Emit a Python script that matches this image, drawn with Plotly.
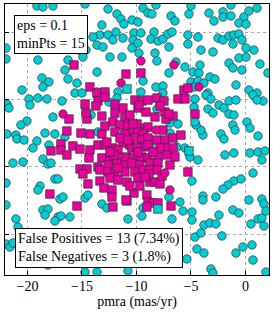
import plotly.graph_objects as go

# ---- data (pmra, pmdec) ----
noise_x = [
 -19.13,-18.58,-17.66,-14.72,-12.61,-11.79,-11.42,-11.15,-10.41,-13.17,-11.88,-10.23,-13.35,-12.61,-13.99,-11.24,-12.16,-10.32,
 -13.62,-13.07,-10.41,-14.63,-15.28,-12.43,-11.33,-14.91,-21.97,-21.97,-19.04,-16.28,-13.62,-16.56,-18.67,-18.03,-16.28,-15.46,
 -18.58,-20.5,-15.64,-15.0,-13.62,-11.7,
 -9.4,-8.94,-8.58,-8.21,-6.83,-6.47,-5.18,-5.0,-3.35,-2.89,-2.06,-2.06,-1.33,-1.33,-0.14,0.32,1.06,-0.6,0.05,-9.86,-9.59,-8.39,
 -8.67,-8.03,-7.57,-7.11,-6.74,-7.02,-9.86,-5.28,-4.36,-5.28,-2.52,-2.06,-1.51,-1.06,-0.6,-1.15,-0.32,0.05,0.78,-4.08,-2.98,-9.77,
 -8.3,-8.12,-6.38,-5.55,-7.02,-4.82,-4.27,-4.17,-1.51,-1.15,-0.6,0.05,1.33,-0.32,2.06,-9.4,-5.0,-4.36,-3.26,-2.8,-4.72,-3.81,
 -8.21,-7.57,-9.59,-3.44,-0.87,0.32,1.06,-7.57,
 -19.86,-19.04,-18.21,-19.77,-21.88,-21.7,-16.83,-17.66,-20.05,-20.6,-21.88,-21.06,-20.96,-20.32,-18.39,-17.48,-16.56,-19.13,
 -19.5,-18.03,-18.58,-18.12,-17.84,-21.33,-20.41,-17.48,-17.2,-21.97,-18.85,-14.17,
 -3.62,-3.17,-3.44,-2.98,-2.43,-1.97,-1.51,-0.87,-1.51,-1.06,-1.15,-0.96,-2.25,-1.97,0.14,0.41,0.69,1.61,1.06,-3.9,-4.08,-4.54,
 -1.88,-1.06,0.41,1.15,1.79,1.51,-4.36,-5.09,0.69,-1.06,-0.41,-1.61,-2.06,-4.91,1.15,
 -12.52,-11.79,-4.63,-4.72,-8.12,-4.63,-6.93,-6.19,-13.53,-6.93,-8.76,-6.28,-5.55,-13.17,-12.71,-6.01,-5.73,-4.91,-9.4,
 -19.04,-14.72,-14.45,-17.02,-16.74,-18.58,-18.12,-18.39,-17.2,-16.93,-17.48,-16.1,-21.97,-21.06,-20.87,-10.78,-21.97,-21.6,
 -21.33,-14.72,-13.62,-10.78,-18.12,
 -3.9,-3.9,-2.71,0.32,1.51,1.7,-7.02,-4.91,-6.74,-9.5,-3.81,-3.26,-2.71,-2.43,-1.15,-0.6,0.5,1.15,1.51,1.7,1.88,-4.63,-4.08,
 -2.16,-4.45,-3.81,-0.87,-0.23,0.6,0.69,-3.17,-2.98,-6.19,-5.37,1.88,
]
noise_y = [
 1.93,1.86,1.93,2.08,1.71,1.34,0.97,0.59,0.89,0.52,0.0,-0.07,-0.22,-0.22,-0.37,-0.45,-0.59,-0.59,
 -0.97,-1.11,-1.19,-1.34,-1.34,-1.86,-1.86,-1.86,-1.19,-2.0,-2.08,-2.08,-2.97,-2.82,-3.41,-3.71,-3.49,-3.79,
 -4.08,-4.31,-4.53,-4.53,-4.45,-4.45,
 1.78,1.41,1.34,2.0,1.19,0.82,1.34,1.93,1.41,0.82,1.5,1.11,1.19,2.0,1.11,1.56,1.78,0.67,0.59,0.74,-0.07,0.0,
 -0.52,-0.67,-0.52,-0.15,0.0,-1.11,-0.82,-0.22,-0.37,-0.89,-0.45,-0.59,-0.3,-0.22,-0.15,-0.89,-0.59,-1.19,-1.34,-1.34,-1.48,-1.56,
 -1.56,-2.15,-2.23,-2.6,-3.04,-2.97,-3.04,-2.45,-2.3,-2.67,-1.93,-1.86,-2.38,-2.82,-3.04,-3.64,-3.71,-3.64,-3.34,-3.49,-4.08,-3.79,
 -4.08,-4.01,-4.45,-4.53,-3.93,-4.31,-4.53,-4.53,
 -4.97,-4.9,-4.97,-5.42,-5.35,-5.64,-5.12,-6.31,-6.61,-6.9,-7.57,-7.65,-7.94,-8.02,-7.5,-7.57,-7.8,-8.09,
 -8.61,-8.39,-9.43,-9.8,-9.73,-9.73,-9.65,-10.91,-10.91,-11.21,-11.43,-6.16,
 -4.68,-4.97,-5.72,-6.01,-5.42,-5.64,-5.12,-5.05,-6.09,-6.16,-6.9,-7.28,-7.57,-7.94,-6.68,-7.13,-4.68,-5.12,-5.05,-7.65,-7.28,-6.9,
 -9.13,-8.98,-8.98,-8.91,-8.83,-9.5,-9.5,-9.28,-10.47,-11.06,-10.91,-11.36,-11.66,-11.06,-7.72,
 -5.2,-4.9,-4.97,-5.57,-5.72,-6.68,-6.76,-6.83,-7.42,-7.5,-8.54,-8.54,-8.61,-12.77,-13.07,-12.62,-13.29,-13.36,-13.07,
 -11.73,-12.32,-12.1,-12.4,-12.25,-13.21,-13.14,-13.59,-13.73,-13.66,-14.03,-13.73,-12.84,-13.88,-14.48,-13.88,-15.74,-15.96,
 -15.66,-17.82,-17.82,-17.74,-17.3,
 -12.18,-12.47,-12.25,-12.47,-12.4,-12.77,-12.25,-13.96,-13.88,-13.66,-14.33,-14.18,-14.25,-13.59,-13.21,-13.44,-14.25,-13.88,-13.81,-14.4,-13.29,-15.22,-14.92,
 -15.14,-16.11,-16.41,-16.41,-15.96,-15.81,-16.93,-17.59,-17.89,-16.93,-16.85,-17.82,
]

cluster_x = [
 -15.73,-10.96,-14.27,-13.62,-12.89,-9.59,-5.64,-5.28,
 -14.72,-16.19,-14.54,-14.63,-16.38,-15.09,-14.27,-16.93,-15.83,-15.18,-17.84,-16.93,-16.38,-14.27,-14.36,-15.18,-14.54,-14.91,-14.45,
 -13.53,-12.89,-10.14,-9.5,-8.94,-8.12,-7.48,-6.19,-5.55,
 -11.24,-13.17,-11.06,-9.86,-9.13,-7.39,-7.29,-6.65,
 -12.16,-11.51,-10.78,-9.95,-9.22,-8.94,-7.57,-10.41,-9.86,-9.4,-11.06,-13.17,-11.97,
 -13.53,-12.89,-12.16,-11.24,-10.6,-10.14,-9.5,-8.94,-8.12,-7.39,-6.65,-5.92,-9.4,-10.41,-11.7,-9.95,-6.65,-7.39,-7.84,
 -13.17,-12.43,-11.7,-10.87,-10.32,-9.5,-8.94,-8.03,-7.2,-6.47,-13.53,-12.61,-11.79,-11.06,-10.41,-9.68,-8.76,-8.03,
 -13.35,-12.61,-11.97,-11.06,-10.14,-9.4,-8.76,-8.12,-5.28,-13.35,-12.43,-11.7,-10.87,-9.86,-8.76,-8.3,-7.84,
 -12.25,-10.23,-12.25,-9.04,-8.94,-10.87,-8.49,-8.03,-12.16,-9.04,-6.83,
 -4.63,-17.94,-15.46,-10.96,
 -13.72,-11.97,-10.32,-12.71,-12.06,
 -9.77,-7.02,-8.94,-9.86,-8.85,
 -11.51,-10.78,-12.43,-8.49,-11.7,-9.22,-10.6,-12.98,-9.68,-7.66,-6.93,-8.3,-10.6,-11.97,-7.84,-12.89,
]
cluster_y = [
 -2.45,-3.12,-4.08,-4.53,-4.45,-3.04,-4.31,-4.16,
 -5.35,-6.46,-6.46,-6.01,-7.35,-7.5,-7.57,-8.31,-8.46,-8.69,-8.83,-8.76,-9.13,-8.76,-9.35,-10.17,-10.17,-10.54,-11.28,
 -5.12,-4.83,-5.05,-5.12,-5.05,-4.9,-5.12,-4.97,-4.97,
 -5.64,-6.24,-6.31,-5.64,-5.94,-5.94,-6.46,-6.24,
 -6.68,-6.9,-6.98,-6.83,-7.13,-7.05,-7.28,-7.42,-7.42,-7.57,-7.57,-7.57,-7.42,
 -8.39,-8.39,-8.61,-8.24,-8.39,-7.87,-8.02,-7.87,-8.02,-8.02,-7.87,-7.65,-8.54,-8.61,-8.76,-8.61,-8.61,-8.61,-8.61,
 -9.35,-9.5,-9.28,-9.28,-9.35,-9.28,-9.35,-9.28,-9.13,-9.28,-10.02,-9.87,-9.73,-9.87,-9.73,-9.87,-9.73,-9.73,
 -10.24,-10.39,-10.47,-10.39,-10.39,-10.24,-10.24,-10.24,-10.39,-11.06,-10.84,-10.99,-11.14,-10.84,-11.14,-11.14,-11.28,
 -11.73,-11.95,-12.25,-12.1,-12.62,-12.55,-12.69,-12.69,-12.99,-12.99,-12.92,
 -6.09,-12.03,-12.92,-12.47,
 -5.49,-6.01,-6.83,-8.17,-9.13,
 -5.42,-6.09,-8.39,-8.91,-10.54,
 -7.87,-8.02,-8.91,-8.91,-10.1,-10.76,-11.43,-11.58,-11.43,-10.69,-9.87,-6.31,-6.16,-5.35,-5.49,-6.98,
]

false_pos_x = [-11.42, -9.59, -6.56, -4.27, -16.74, -7.39, -6.93, -8.21]
false_pos_y = [-3.79, -2.15, -2.45, -4.08, -6.09, -10.47, -11.73, -7.28]

false_neg_x = [-10.87, -5.18, -8.03]
false_neg_y = [-4.23, -8.83, -13.14]

x_ticks = [-20, -15, -10, -5, 0]
x_tick_text = ["\u221220", "\u221215", "\u221210", "\u22125", "0"]
y_grid = [0, -5, -10, -15]

CYAN = "rgb(0,206,214)"
MAGENTA = "rgb(234,0,158)"
EDGE = "rgb(50,50,50)"
FONT = "Liberation Serif"

fig = go.Figure()
fig.add_trace(go.Scatter(x=noise_x, y=noise_y, mode="markers", hoverinfo="skip",
    marker=dict(symbol="circle", size=8.5, color=CYAN, line=dict(color=EDGE, width=0.7))))
fig.add_trace(go.Scatter(x=cluster_x, y=cluster_y, mode="markers", hoverinfo="skip",
    marker=dict(symbol="square", size=8.5, color=MAGENTA, line=dict(color=EDGE, width=0.7))))
fig.add_trace(go.Scatter(x=false_pos_x, y=false_pos_y, mode="markers", hoverinfo="skip",
    marker=dict(symbol="circle", size=8.5, color=MAGENTA, line=dict(color=EDGE, width=0.7))))
fig.add_trace(go.Scatter(x=false_neg_x, y=false_neg_y, mode="markers", hoverinfo="skip",
    marker=dict(symbol="square", size=8.5, color=CYAN, line=dict(color=EDGE, width=0.7))))

fig.update_layout(
    width=273, height=313,
    margin=dict(l=5, r=4, t=4, b=38),
    paper_bgcolor="white", plot_bgcolor="white",
    showlegend=False,
    font=dict(family=FONT, size=14, color="black"),
    xaxis=dict(range=[-22.06, 2.16], tickvals=x_ticks, ticktext=x_tick_text,
               showline=True, mirror=True, linecolor="black", linewidth=1,
               ticks="inside", ticklen=4, tickcolor="black", ticklabelstandoff=-2,
               showgrid=True, gridcolor="rgb(170,170,170)", griddash="dot", gridwidth=1,
               zeroline=False, tickfont=dict(family=FONT, size=14),
               title=dict(text="pmra (mas/yr)", font=dict(family=FONT, size=14), standoff=2)),
    yaxis=dict(range=[-18.04, 2.08], tickvals=y_grid, showticklabels=False,
               showline=True, mirror=True, linecolor="black", linewidth=1,
               ticks="inside", ticklen=4, tickcolor="black",
               showgrid=True, gridcolor="rgb(170,170,170)", griddash="dot", gridwidth=1,
               zeroline=False),
)

fig.add_annotation(xref="paper", yref="paper", x=0.034, y=0.959, xanchor="left", yanchor="top",
    text="eps = 0.1<br>minPts = 15", showarrow=False, align="left",
    bgcolor="white", bordercolor="black", borderwidth=1, borderpad=2,
    font=dict(family=FONT, size=14, color="black"))
fig.add_annotation(xref="paper", yref="paper", x=0.038, y=0.026, xanchor="left", yanchor="bottom",
    text="False Positives = 13 (7.34%)<br>False Negatives = 3 (1.8%)", showarrow=False, align="left",
    bgcolor="white", bordercolor="black", borderwidth=1, borderpad=2,
    font=dict(family=FONT, size=14, color="black"))

fig.write_html("out.html", config={"displayModeBar": False, "staticPlot": True},
               post_script="document.body.style.margin='0';document.body.style.padding='0';")
